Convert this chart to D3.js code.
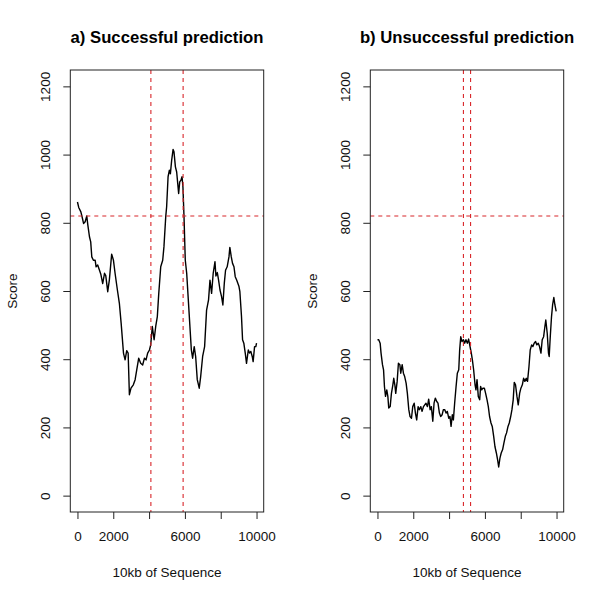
<!DOCTYPE html>
<html>
<head>
<meta charset="utf-8">
<script src="https://cdn.jsdelivr.net/npm/d3@7"></script>
<style>
  html, body { margin: 0; padding: 0; background: #fff; }
  svg { display: block; font-family: "Liberation Sans", Arial, Helvetica, sans-serif; }
</style>
</head>
<body>
<svg id="chart" width="600" height="600"></svg>
<script>
// ---- data ----
const panelTitles = ["a) Successful prediction", "b) Unsuccessful prediction"];
const xTicks = [0, 2000, 4000, 6000, 8000, 10000];
const xTickLabels = ["0", "2000", "", "6000", "", "10000"];
const yTicks = [0, 200, 400, 600, 800, 1000, 1200];
const xTitle = "10kb of Sequence";
const yTitle = "Score";
const threshold = 820;
const boundsA = [4100, 5900];
const boundsB = [4800, 5200];

const seqA = [
  [0,861],[70,845],[190,832],[260,817],[340,798],[430,803],[520,820],[580,793],[670,759],[740,744],
  [800,700],[890,690],[990,690],[1040,671],[1130,676],[1230,661],[1300,650],[1410,622],[1510,652],[1580,645],
  [1690,598],[1780,632],[1910,708],[2010,690],[2100,652],[2230,603],[2340,564],[2440,505],[2570,418],[2660,398],
  [2750,425],[2830,418],[2900,296],[2990,315],[3120,325],[3220,340],[3310,369],[3420,403],[3530,388],[3640,383],
  [3740,403],[3830,398],[3920,418],[4020,427],[4090,442],[4180,496],[4280,457],[4370,496],[4460,525],[4540,593],
  [4650,671],[4760,690],[4830,730],[4930,818],[4980,847],[5060,935],[5130,954],[5190,944],[5260,983],[5340,1015],
  [5390,1008],[5470,964],[5540,949],[5600,915],[5650,886],[5710,920],[5780,925],[5840,935],[5890,905],[5950,818],
  [6020,691],[6100,652],[6190,574],[6280,496],[6360,427],[6430,403],[6520,437],[6600,408],[6690,340],[6800,315],
  [6880,349],[6990,408],[7100,437],[7210,544],[7320,574],[7400,632],[7490,593],[7580,652],[7680,686],[7730,644],
  [7810,654],[7880,632],[7960,603],[8050,583],[8120,559],[8200,623],[8270,661],[8360,671],[8460,700],[8510,728],
  [8590,700],[8660,681],[8740,671],[8810,642],[8890,632],[8960,622],[9020,613],[9070,598],[9160,525],[9220,457],
  [9290,447],[9370,418],[9440,388],[9540,427],[9610,418],[9680,423],[9760,408],[9810,393],[9890,437],[9960,437],
  [10000,447]
];

const seqB = [
  [0,457],[70,457],[150,447],[200,418],[280,384],[340,369],[390,320],[450,291],[520,310],[580,291],
  [630,257],[710,261],[780,300],[860,325],[910,344],[970,325],[1020,300],[1100,335],[1170,388],[1250,384],
  [1300,359],[1380,384],[1450,359],[1520,349],[1600,330],[1670,300],[1750,252],[1820,232],[1900,227],[1970,261],
  [2050,271],[2120,242],[2190,222],[2270,261],[2340,252],[2420,261],[2490,247],[2570,261],[2640,266],[2710,271],
  [2790,261],[2860,283],[2940,252],[3010,261],[3090,218],[3160,271],[3230,286],[3310,276],[3380,271],[3460,242],
  [3530,232],[3610,237],[3680,252],[3760,252],[3830,242],[3900,247],[3980,227],[4050,232],[4110,203],[4180,237],
  [4240,222],[4310,271],[4390,320],[4460,359],[4540,369],[4590,427],[4650,466],[4720,452],[4800,457],[4870,447],
  [4940,457],[5020,447],[5090,459],[5170,437],[5240,418],[5300,398],[5370,369],[5450,325],[5500,310],[5560,340],
  [5630,291],[5710,281],[5760,320],[5820,310],[5890,315],[5970,315],[6040,300],[6120,281],[6190,261],[6260,232],
  [6340,213],[6410,203],[6490,174],[6560,144],[6640,125],[6710,105],[6770,84],[6840,110],[6910,125],[6990,135],
  [7060,154],[7140,174],[7210,184],[7290,203],[7360,213],[7440,232],[7510,252],[7580,281],[7640,332],[7710,325],
  [7790,291],[7860,266],[7940,300],[8010,315],[8090,325],[8160,344],[8230,335],[8310,344],[8380,335],[8460,378],
  [8530,427],[8610,442],[8680,437],[8750,447],[8830,452],[8900,442],[8980,447],[9050,437],[9130,418],[9200,457],
  [9280,466],[9350,496],[9400,515],[9480,476],[9550,418],[9590,408],[9650,466],[9720,525],[9780,559],[9850,581],
  [9910,559],[9980,540]
];

// ---- layout ----
const svg = d3.select("#chart");
const panels = [
  { title: panelTitles[0], data: seqA, bounds: boundsA, left: 70.3, right: 263.7 },
  { title: panelTitles[1], data: seqB, bounds: boundsB, left: 370.3, right: 563.7 }
];
const plotTop = 70, plotBottom = 512;
const red = "#d8262a";

panels.forEach(p => {
  const g = svg.append("g");
  const x = d3.scaleLinear().domain([-400, 10400]).range([p.left, p.right]);
  const y = d3.scaleLinear().domain([-48, 1248]).range([plotBottom, plotTop]);

  // series line
  g.append("path")
    .datum(p.data)
    .attr("fill", "none")
    .attr("stroke", "#000")
    .attr("stroke-width", 1.4)
    .attr("stroke-linejoin", "round")
    .attr("d", d3.line().x(d => x(d[0])).y(d => y(d[1])));

  // threshold & bounds
  g.append("line")
    .attr("x1", p.left).attr("x2", p.right)
    .attr("y1", y(threshold)).attr("y2", y(threshold))
    .attr("stroke", red).attr("stroke-width", 1.1).attr("stroke-dasharray", "4,4");
  p.bounds.forEach(b => {
    g.append("line")
      .attr("x1", x(b)).attr("x2", x(b))
      .attr("y1", plotTop).attr("y2", plotBottom)
      .attr("stroke", red).attr("stroke-width", 1.1).attr("stroke-dasharray", "4,4");
  });

  // box
  g.append("rect")
    .attr("x", p.left).attr("y", plotTop)
    .attr("width", p.right - p.left).attr("height", plotBottom - plotTop)
    .attr("fill", "none").attr("stroke", "#222").attr("stroke-width", 1);

  // x axis
  const xAxis = d3.axisBottom(x).tickValues(xTicks)
    .tickSize(7).tickPadding(12)
    .tickFormat((d, i) => xTickLabels[i]);
  const xg = g.append("g").attr("transform", `translate(0,${plotBottom})`).call(xAxis);
  xg.select(".domain").remove();
  xg.selectAll(".tick line").attr("stroke", "#222");
  xg.selectAll(".tick text").attr("font-size", 13.5).attr("fill", "#111")
    .attr("font-family", "'Liberation Sans', Arial, sans-serif");

  // y axis
  const yAxis = d3.axisLeft(y).tickValues(yTicks).tickSize(7).tickPadding(0).tickFormat(d3.format("d"));
  const yg = g.append("g").attr("transform", `translate(${p.left},0)`).call(yAxis);
  yg.select(".domain").remove();
  yg.selectAll(".tick line").attr("stroke", "#222");
  yg.selectAll(".tick text")
    .attr("font-size", 13.5).attr("fill", "#111")
    .attr("font-family", "'Liberation Sans', Arial, sans-serif")
    .attr("x", null).attr("dy", null)
    .attr("text-anchor", "middle")
    .attr("dominant-baseline", "central")
    .attr("transform", "translate(-25,0) rotate(-90)");

  // titles
  const cx = (p.left + p.right) / 2;
  g.append("text").attr("x", cx).attr("y", 43)
    .attr("text-anchor", "middle").attr("font-size", 16.7).attr("font-weight", "bold")
    .attr("fill", "#000").text(p.title);
  g.append("text").attr("x", cx).attr("y", 577)
    .attr("text-anchor", "middle").attr("font-size", 13.5).attr("fill", "#111").text(xTitle);
  g.append("text")
    .attr("transform", `translate(${p.left - 58},${(plotTop + plotBottom) / 2}) rotate(-90)`)
    .attr("text-anchor", "middle").attr("dominant-baseline", "central")
    .attr("font-size", 13.5).attr("fill", "#111").text(yTitle);
});
</script>
</body>
</html>
